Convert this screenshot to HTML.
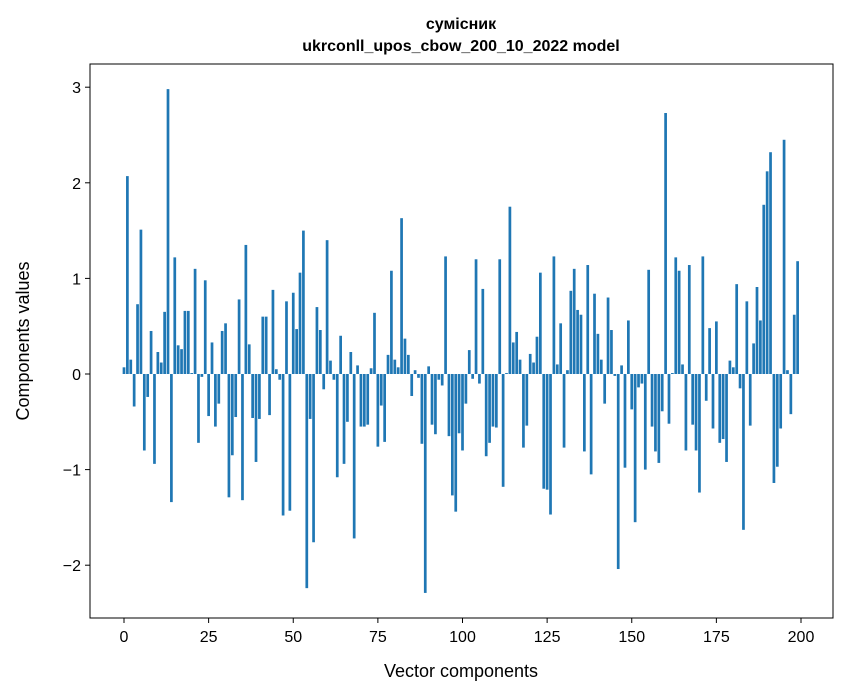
<!DOCTYPE html>
<html><head><meta charset="utf-8"><style>
html,body{margin:0;padding:0;background:#fff;}
svg{display:block;font-family:"Liberation Sans","DejaVu Sans",sans-serif;}
</style></head><body>
<svg id="c" width="847" height="696" xmlns="http://www.w3.org/2000/svg">
<rect width="847" height="696" fill="#fff"/>
<g id="bars" fill="#1f77b4"></g>
<rect x="90" y="64" width="743" height="554" fill="none" stroke="#000" stroke-width="1"/>
<g id="ticks" stroke="#000" stroke-width="1"></g>
<g id="labels" font-size="16" fill="#000"></g>
<text x="461" y="29" text-anchor="middle" font-size="16" font-weight="bold">сумісник</text>
<text x="461" y="51" text-anchor="middle" font-size="16" font-weight="bold">ukrconll_upos_cbow_200_10_2022 model</text>
<text x="461" y="677" text-anchor="middle" font-size="18">Vector components</text>
<text transform="translate(29,341) rotate(-90)" text-anchor="middle" font-size="18">Components values</text>
</svg>
<script>
var v=[0.07,2.07,0.15,-0.34,0.73,1.51,-0.80,-0.24,0.45,-0.94,0.23,0.12,0.65,2.98,-1.34,1.22,0.30,0.26,0.66,0.66,0.01,1.10,-0.72,-0.03,0.98,-0.44,0.33,-0.55,-0.31,0.45,0.53,-1.29,-0.85,-0.45,0.78,-1.32,1.35,0.31,-0.46,-0.92,-0.47,0.60,0.60,-0.43,0.88,0.05,-0.06,-1.48,0.76,-1.43,
0.85,0.47,1.06,1.50,-2.24,-0.47,-1.76,0.70,0.46,-0.16,1.40,0.14,-0.06,-1.08,0.40,-0.94,-0.50,0.23,-1.72,0.09,-0.55,-0.55,-0.53,0.06,0.64,-0.76,-0.33,-0.71,0.20,1.08,0.15,0.07,1.63,0.37,0.20,-0.23,0.04,-0.04,-0.73,-2.29,0.08,-0.53,-0.63,-0.06,-0.12,1.23,-0.65,-1.27,-1.44,-0.62,
-0.80,-0.31,0.25,-0.05,1.20,-0.10,0.89,-0.86,-0.72,-0.55,-0.56,1.20,-1.18,0.01,1.75,0.33,0.44,0.15,-0.77,-0.54,0.21,0.12,0.39,1.06,-1.20,-1.21,-1.47,1.23,0.10,0.53,-0.77,0.04,0.87,1.10,0.67,0.62,-0.81,1.14,-1.05,0.84,0.42,0.15,-0.31,0.80,0.46,-0.02,-2.04,0.09,-0.98,0.56,
-0.37,-1.55,-0.14,-0.10,-1.00,1.09,-0.55,-0.81,-0.93,-0.39,2.73,-0.52,0.01,1.22,1.08,0.10,-0.80,1.14,-0.53,-0.80,-1.24,1.23,-0.28,0.48,-0.57,0.55,-0.72,-0.68,-0.92,0.14,0.07,0.94,-0.15,-1.63,0.76,-0.54,0.32,0.91,0.56,1.77,2.12,2.32,-1.14,-0.97,-0.57,2.45,0.04,-0.42,0.62,1.18];
var ns="http://www.w3.org/2000/svg";
function el(t,a,p,txt){var e=document.createElementNS(ns,t);for(var k in a)e.setAttribute(k,a[k]);if(txt!=null)e.textContent=txt;document.getElementById(p).appendChild(e);}
var x0=124,sx=3.385,y0=374,sy=95.6,w=sx*0.8;
v.forEach(function(d,i){var cx=x0+sx*i,h=Math.abs(d)*sy;el('rect',{x:(cx-w/2).toFixed(2),y:(d>=0?y0-h:y0).toFixed(2),width:w.toFixed(2),height:Math.max(h,0.3).toFixed(2)},'bars');});
for(var t=0;t<=200;t+=25){var x=x0+sx*t;el('line',{x1:x,y1:618,x2:x,y2:623},'ticks');el('text',{x:x,y:642,'text-anchor':'middle'},'labels',String(t));}
for(var t=-2;t<=3;t++){var y=y0-sy*t;el('line',{x1:85,y1:y,x2:90,y2:y},'ticks');el('text',{x:81,y:y+6,'text-anchor':'end'},'labels',t<0?'\u2212'+(-t):String(t));}
</script>
</body></html>
